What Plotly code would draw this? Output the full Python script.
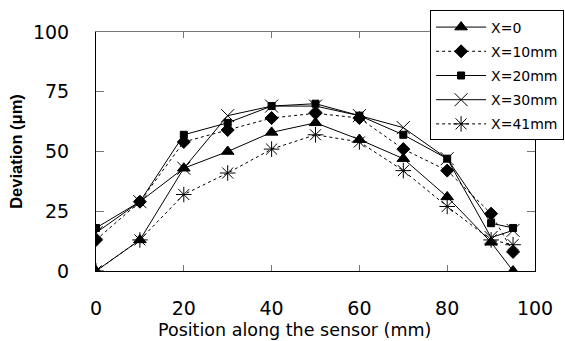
import plotly.graph_objects as go

positions = [0, 10, 20, 30, 40, 50, 60, 70, 80, 90, 95]
series_names = ["X=0", "X=10mm", "X=20mm", "X=30mm", "X=41mm"]
x0 = [0, 13, 43, 50, 58, 62, 55, 47, 31, 12, 0]
x10 = [13, 29, 54, 59, 64, 66, 64, 51, 42, 24, 8]
x20 = [18, 29, 57, 62, 69, 70, 65, 57, 47, 20, 18]
x30 = [16, 29, 43, 65, 69, 69, 65, 60, 47, 14, 17]
x41 = [0, 13, 32, 41, 51, 57, 54, 42, 27, 13, 11]

x_ticks = [0, 20, 40, 60, 80, 100]
y_ticks = [0, 25, 50, 75, 100]
x_title = "Position along the sensor (mm)"
y_title = "Deviation (μm)"

series = [x0, x10, x20, x30, x41]
symbols = ["triangle-up", "diamond", "square", "x-thin-open", "asterisk-open"]
sizes = [11, 10, 7, 13, 13]
dashes = ["solid", "dot", "solid", "solid", "dot"]

FONT = "DejaVu Sans"

fig = go.Figure()
for name, vals, sym, sz, dsh in zip(series_names, series, symbols, sizes, dashes):
    fig.add_trace(go.Scatter(
        x=positions, y=vals, name=name, mode="lines+markers",
        line=dict(color="black", width=1, dash=dsh),
        marker=dict(symbol=sym, size=sz, color="black",
                    line=dict(color="black", width=1)),
        legendgroup=name,
    ))

fig.update_layout(
    width=565, height=341,
    margin=dict(l=96, r=30, t=32, b=70, autoexpand=False),
    paper_bgcolor="white", plot_bgcolor="white",
    font=dict(family=FONT, color="black", size=16),
    showlegend=True,
    legend=dict(
        x=0.761, y=1.09, xanchor="left", yanchor="top",
        bgcolor="white", bordercolor="black", borderwidth=1,
        font=dict(family=FONT, size=14, color="black"),
        tracegroupgap=3, itemwidth=50,
    ),
    xaxis=dict(
        range=[0, 100], tickvals=x_ticks, ticktext=[str(v) for v in x_ticks],
        showgrid=False, zeroline=False,
        showline=True, linecolor="black", linewidth=1,
        ticks="inside", ticklen=6, tickcolor="#777777",
        ticklabelstandoff=20,
        tickfont=dict(family=FONT, size=19),
    ),
    xaxis2=dict(
        range=[0, 100], tickvals=x_ticks, overlaying="x", side="top",
        showgrid=False, zeroline=False, showticklabels=False,
        showline=True, linecolor="#777777", linewidth=1,
        ticks="inside", ticklen=6, tickcolor="#777777",
    ),
    yaxis=dict(
        range=[0, 100], tickvals=y_ticks, ticktext=[str(v) for v in y_ticks],
        showgrid=False, zeroline=False,
        showline=True, linecolor="black", linewidth=1, mirror="ticks",
        ticks="inside", ticklen=8, tickcolor="#777777",
        ticklabelstandoff=22,
        tickfont=dict(family=FONT, size=19),
        title=dict(text="<b>" + y_title + "</b>",
                   font=dict(family="Liberation Sans", size=16.5), standoff=6),
    ),
    annotations=[dict(
        text=x_title, xref="paper", yref="paper", x=0.452, y=-0.247,
        xanchor="center", yanchor="middle", showarrow=False,
        font=dict(family=FONT, size=17.5, color="black"),
    )],
)
fig.add_trace(go.Scatter(x=[None], y=[None], xaxis="x2", showlegend=False,
                         hoverinfo="skip"))

fig.write_html("out.html")
